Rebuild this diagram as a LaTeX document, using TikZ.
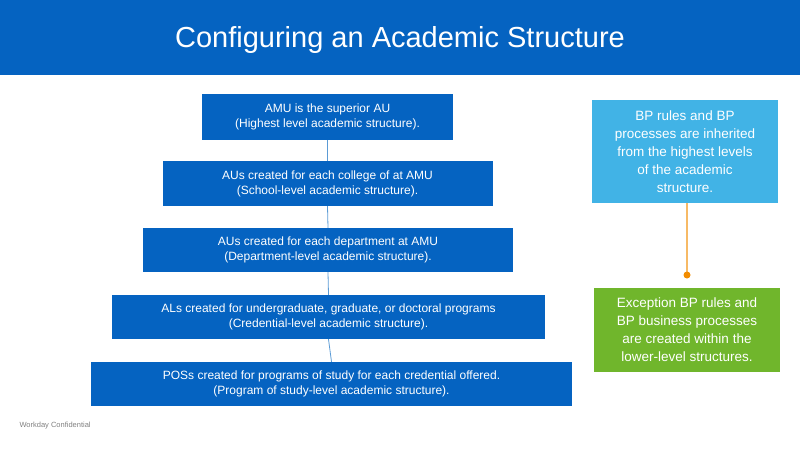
\documentclass[tikz,border=0pt]{standalone}
\usepackage{fontspec}
\setmainfont{Liberation Sans}
\definecolor{wdblue}{HTML}{0563C1}
\definecolor{wdsky}{HTML}{41B3E6}
\definecolor{wdgreen}{HTML}{70B62C}
\definecolor{wdorange}{HTML}{F28C00}
\definecolor{wdline}{HTML}{5B9BD5}
\tikzset{
  lvl/.style={fill=wdblue,text=white,align=center,inner sep=0pt,font=\fontsize{12}{15}\selectfont},
  side/.style={text=white,align=center,inner sep=0pt,font=\fontsize{13.5}{18}\selectfont}
}
\begin{document}
\begin{tikzpicture}[x=1pt,y=-1pt]
\useasboundingbox (0,0) rectangle (800,450);
\fill[wdblue] (0,0) rectangle (800,75);
\node[text=white,font=\fontsize{29}{34}\selectfont] (title) at (400,40) {Configuring an Academic Structure};

\node[lvl,minimum width=251pt,minimum height=46pt] (amu) at (327.5,117) {AMU is the superior AU\\(Highest level academic structure).};
\node[lvl,minimum width=330pt,minimum height=45pt] (school) at (327.5,183.5) {AUs created for each college of at AMU\\(School-level academic structure).};
\node[lvl,minimum width=370pt,minimum height=44pt] (dept) at (328,250) {AUs created for each department at AMU\\(Department-level academic structure).};
\node[lvl,minimum width=433pt,minimum height=44pt] (cred) at (328.5,317) {ALs created for undergraduate, graduate, or doctoral programs\\(Credential-level academic structure).};
\node[lvl,minimum width=481pt,minimum height=44pt] (pos) at (331.5,384) {POSs created for programs of study for each credential offered.\\(Program of study-level academic structure).};

\foreach \a/\b in {amu/school,school/dept,dept/cred,cred/pos}
  \draw[wdline,line width=0.8pt] (\a.south) -- (\b.north);

\node[side,fill=wdsky,minimum width=186pt,minimum height=103pt] (inherit) at (685,151.5) {BP rules and BP\\processes are inherited\\from the highest levels\\of the academic\\structure.};
\node[side,fill=wdgreen,minimum width=186pt,minimum height=84pt] (except) at (687,330) {Exception BP rules and\\BP business processes\\are created within the\\lower-level structures.};

\coordinate (dot) at (687,275);
\draw[wdorange!60,line width=1.2pt] (inherit.south -| dot) -- (dot);
\fill[wdorange] (dot) circle (3.5pt);

\node[anchor=west,text=gray,font=\fontsize{7.5}{9}\selectfont] (conf) at (16,426) {Workday Confidential};
\end{tikzpicture}
\end{document}
